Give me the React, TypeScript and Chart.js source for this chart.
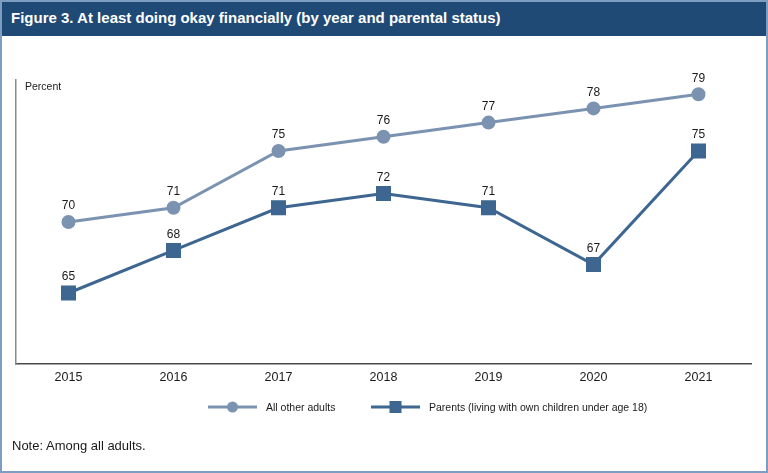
import React, { useEffect, useRef } from "react";
import { Chart, registerables } from "chart.js";

Chart.register(...registerables);

const years = ["2015", "2016", "2017", "2018", "2019", "2020", "2021"];
const otherAdults = [70, 71, 75, 76, 77, 78, 79];
const parents = [65, 68, 71, 72, 71, 67, 75];
const seriesLabels = ["All other adults", "Parents (living with own children under age 18)"];
const titleText = "Figure 3. At least doing okay financially (by year and parental status)";
const noteText = "Note: Among all adults.";
const yAxisLabel = "Percent";
const yMin = 60;
const yMax = 80;

const lightColor = "#7b93b1";
const darkColor = "#3d6690";
const regular = "'Liberation Sans', Arial, sans-serif";

export default function App() {
  const canvasRef = useRef<HTMLCanvasElement | null>(null);

  useEffect(() => {
    document.body.style.margin = "0";
    const canvas = canvasRef.current;
    if (!canvas) return;

    const labelsPlugin = {
      id: "extras",
      afterDatasetsDraw(chart: any) {
        const ctx = chart.ctx;
        ctx.save();
        ctx.fillStyle = "#1a1a1a";
        ctx.font = `12px ${regular}`;
        ctx.textAlign = "center";
        ctx.textBaseline = "middle";
        chart.data.datasets.forEach((ds: any, i: number) => {
          const meta = chart.getDatasetMeta(i);
          meta.data.forEach((pt: any, j: number) => {
            ctx.fillText(String(ds.data[j]), pt.x, pt.y - 16);
          });
        });
        ctx.font = `10.5px ${regular}`;
        ctx.textAlign = "left";
        ctx.fillText(yAxisLabel, chart.chartArea.left + 9, chart.chartArea.top + 7);
        ctx.restore();
      },
      afterDraw(chart: any) {
        const ctx = chart.ctx;
        ctx.save();
        ctx.font = `10.5px ${regular}`;
        const lineW = 49;
        const gapText = 9;
        const itemStarts = [208, 371];
        const y = 407;
        chart.data.datasets.forEach((ds: any, i: number) => {
          let x = itemStarts[i];
          ctx.strokeStyle = ds.borderColor;
          ctx.lineWidth = 3;
          ctx.beginPath();
          ctx.moveTo(x, y);
          ctx.lineTo(x + lineW, y);
          ctx.stroke();
          ctx.fillStyle = ds.pointBackgroundColor;
          const cx = x + lineW / 2;
          if (ds.pointStyle === "circle") {
            ctx.beginPath();
            ctx.arc(cx, y, 5.5, 0, Math.PI * 2);
            ctx.fill();
          } else {
            ctx.fillRect(cx - 6, y - 6, 12, 12);
          }
          x += lineW + gapText;
          ctx.fillStyle = "#1a1a1a";
          ctx.textAlign = "left";
          ctx.textBaseline = "middle";
          ctx.fillText(seriesLabels[i], x, y + 1);
        });
        ctx.restore();
      },
    };

    const chart = new Chart(canvas, {
      type: "line",
      data: {
        labels: years,
        datasets: [
          {
            label: seriesLabels[0],
            data: otherAdults,
            borderColor: lightColor,
            backgroundColor: lightColor,
            pointBackgroundColor: lightColor,
            pointBorderColor: lightColor,
            pointStyle: "circle",
            pointRadius: 5.5,
            borderWidth: 3,
            tension: 0,
          },
          {
            label: seriesLabels[1],
            data: parents,
            borderColor: darkColor,
            backgroundColor: darkColor,
            pointBackgroundColor: darkColor,
            pointBorderColor: darkColor,
            pointStyle: "rect",
            pointRadius: 8.5,
            borderWidth: 3,
            tension: 0,
          },
        ],
      },
      options: {
        responsive: false,
        animation: false,
        devicePixelRatio: 1,
        layout: { padding: { left: 16, right: 17, top: 80, bottom: 81 } },
        plugins: {
          legend: { display: false },
          tooltip: { enabled: false },
          title: { display: false },
        },
        scales: {
          x: {
            offset: true,
            grid: { display: false, drawTicks: false },
            border: { display: true, color: "#4a4a4a", width: 1.5 },
            ticks: { color: "#1a1a1a", font: { size: 12.5, family: regular }, padding: 6 },
            afterFit: (s: any) => {
              s.height = 28;
            },
          },
          y: {
            min: yMin,
            max: yMax,
            grid: { display: false, drawTicks: false },
            border: { display: true, color: "#8a8a8a", width: 1.5 },
            ticks: { display: false },
            afterFit: (s: any) => {
              s.width = 0;
            },
          },
        },
      },
      plugins: [labelsPlugin],
    });

    return () => chart.destroy();
  }, []);

  return (
    <div style={{ position: "absolute", left: 0, top: 0, width: 768, height: 473, background: "#fff" }}>
      <canvas ref={canvasRef} width={768} height={473} style={{ position: "absolute", left: 0, top: 0, width: 768, height: 473 }} />
      <div
        style={{
          position: "absolute",
          left: 0,
          top: 0,
          width: 768,
          height: 36,
          background: "#1f4a75",
          color: "#fff",
          fontFamily: regular,
          fontWeight: "bold",
          fontSize: 15,
          lineHeight: "36px",
          paddingLeft: 11,
          boxSizing: "border-box",
          whiteSpace: "nowrap",
        }}
      >
        {titleText}
      </div>
      <div
        style={{
          position: "absolute",
          left: 12,
          top: 437,
          fontFamily: regular,
          fontSize: 13,
          color: "#1a1a1a",
          lineHeight: "18px",
        }}
      >
        {noteText}
      </div>
      <div
        style={{
          position: "absolute",
          left: 0,
          top: 0,
          width: 768,
          height: 473,
          border: "2px solid #7c9ec2",
          boxSizing: "border-box",
          pointerEvents: "none",
        }}
      />
    </div>
  );
}
